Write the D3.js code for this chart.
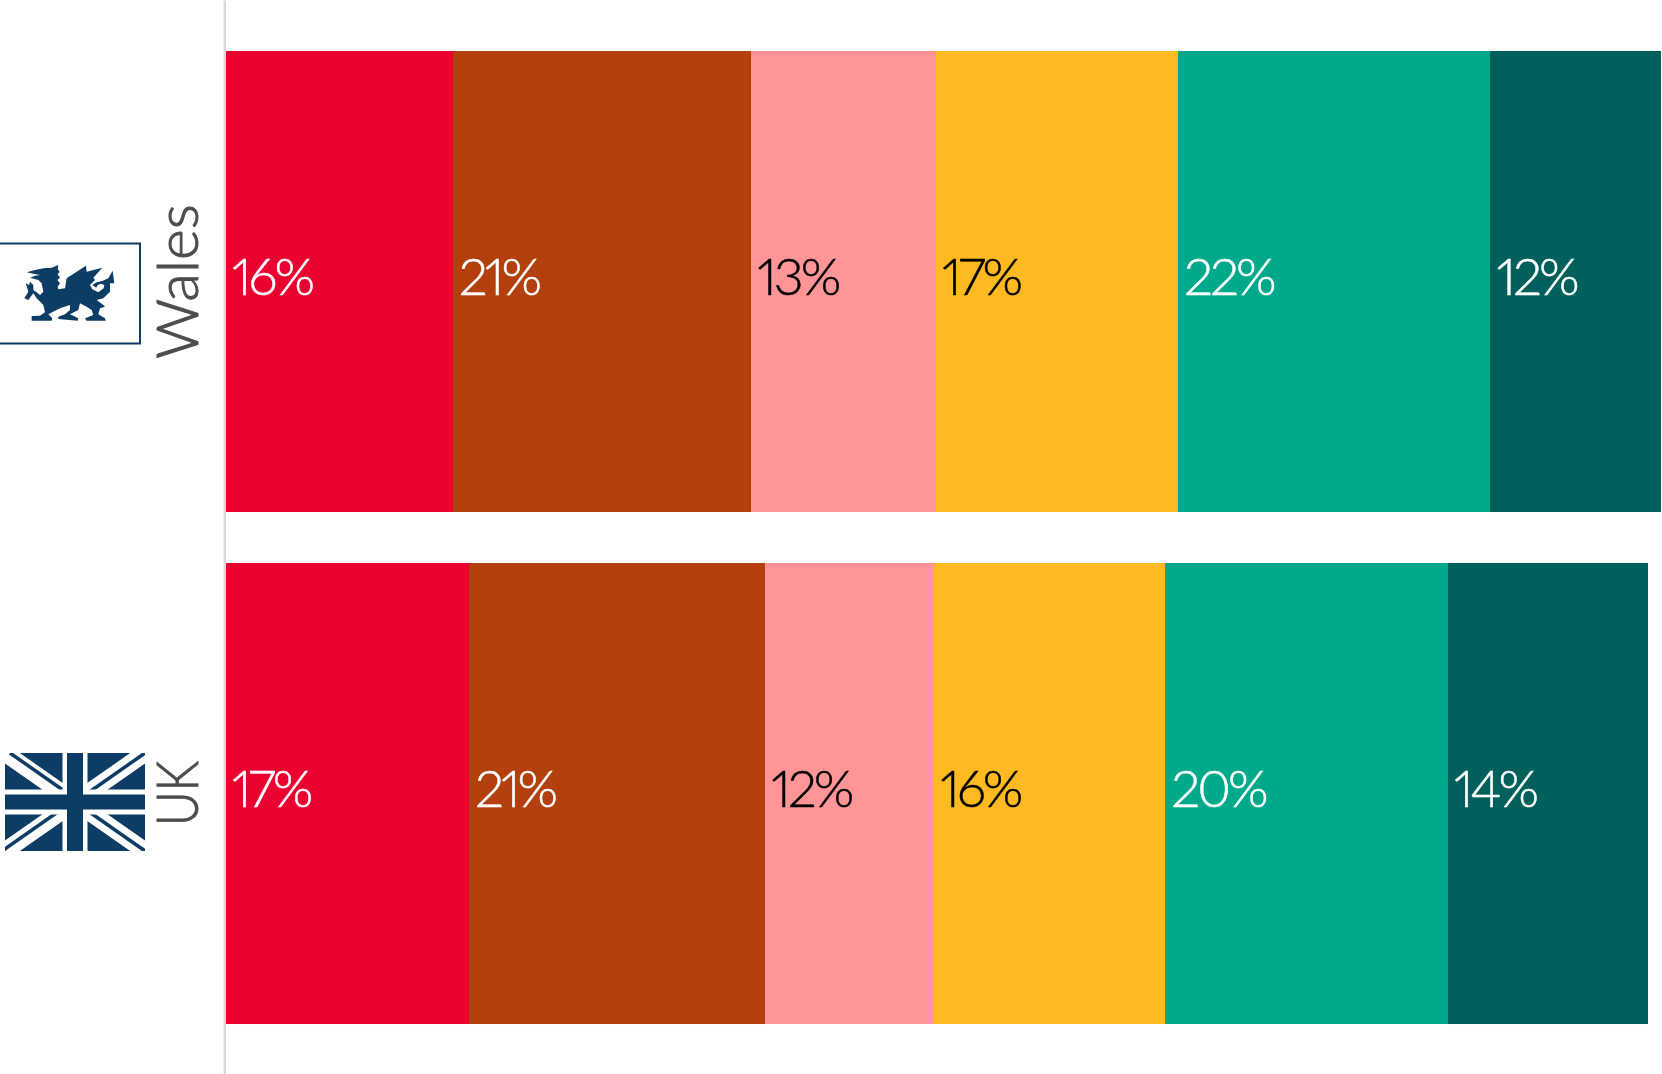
<!DOCTYPE html>
<html>
<head>
<meta charset="utf-8">
<script src="https://cdn.jsdelivr.net/npm/d3@7"></script>
<style>
  html, body { margin: 0; padding: 0; background: #fff; }
  svg { display: block; }
  text { font-family: Lato, sans-serif; font-weight: 300; font-feature-settings: 'pnum'; }
</style>
</head>
<body>
<div id="chart"></div>
<script>
// data
let regions = ['Wales', 'UK']
let groups = ['a', 'b', 'c', 'd', 'e', 'f']
let walesValues = [15.96, 21.0, 13.0, 17.03, 22.0, 12.02]
let ukValues = [17.1, 20.85, 11.9, 16.25, 19.9, 14.1]
let walesLabels = ['16%', '21%', '13%', '17%', '22%', '12%']
let ukLabels = ['17%', '21%', '12%', '16%', '20%', '14%']
let colors = ['#ea0130', '#b33f0d', '#ff9596', '#ffb921', '#00a98a', '#01605b']
let labelColors = ['#fff', '#fff', '#000', '#000', '#fff', '#fff']

let width = 1662
let height = 1074
let margin = { left: 226 }

let svg = d3
  .select('#chart')
  .append('svg')
  .attr('width', width)
  .attr('height', height)

let rows = regions.map((region, i) => {
  let row = { region: region }
  let values = i === 0 ? walesValues : ukValues
  groups.forEach((g, j) => {
    row[g] = values[j]
  })
  row.labels = i === 0 ? walesLabels : ukLabels
  return row
})

let xPositionScale = d3.scaleLinear().domain([0, 101.06]).range([margin.left, width])

let yPositionScale = d3
  .scaleBand()
  .domain(regions)
  .range([0, 1075])
  .padding(0.0996)

let stacked = d3.stack().keys(groups)(rows)

let layers = svg
  .selectAll('.layer')
  .data(stacked)
  .enter()
  .append('g')
  .attr('class', 'layer')

layers
  .selectAll('rect')
  .data(d => d)
  .enter()
  .append('rect')
  .attr('x', d => Math.round(xPositionScale(d[0])))
  .attr('width', d => Math.round(xPositionScale(d[1])) - Math.round(xPositionScale(d[0])))
  .attr('y', d => yPositionScale(d.data.region))
  .attr('height', yPositionScale.bandwidth())
  .attr('fill', function() {
    return colors[groups.indexOf(d3.select(this.parentNode).datum().key)]
  })

layers
  .selectAll('text')
  .data(d => d)
  .enter()
  .append('text')
  .text(function(d) {
    return d.data.labels[groups.indexOf(d3.select(this.parentNode).datum().key)]
  })
  .attr('x', d => xPositionScale(d[0]) + 6)
  .attr('y', d => yPositionScale(d.data.region) + yPositionScale.bandwidth() / 2 - 5)
  .attr('dy', '0.35em')
  .attr('font-size', 52)
  .attr('letter-spacing', -3)
  .attr('stroke-width', 0.5)
  .attr('fill', function() {
    return labelColors[groups.indexOf(d3.select(this.parentNode).datum().key)]
  })
  .attr('stroke', function() {
    return labelColors[groups.indexOf(d3.select(this.parentNode).datum().key)]
  })

// Category axis, labels turned on their side
let yAxis = d3.axisLeft(yPositionScale).tickSize(0).tickPadding(0)
let axis = svg
  .append('g')
  .attr('class', 'axis y-axis')
  .attr('transform', `translate(${margin.left - 1.75},0)`)
  .call(yAxis)

axis.select('.domain').attr('stroke', '#d9d9d9').attr('stroke-width', 2.5)

axis
  .selectAll('text')
  .attr('font-size', 57)
  .attr('font-family', 'Lato, sans-serif')
  .attr('fill', '#4d4d4d')
  .attr('stroke', '#4d4d4d')
  .attr('stroke-width', 1)
  .attr('text-anchor', 'middle')
  .attr('dy', 0)
  .attr('x', 0)
  .attr('y', 0)
  .attr('textLength', d => (d === 'Wales' ? 155 : 65))
  .attr('lengthAdjust', 'spacingAndGlyphs')
  .attr('transform', 'translate(-26,0) rotate(-90)')

// Wales flag
let navy = '#0d3c64'
let wales = svg.append('g').attr('class', 'flag wales')
wales
  .append('rect')
  .attr('x', -2)
  .attr('y', 243.5)
  .attr('width', 142)
  .attr('height', 100)
  .attr('fill', '#fff')
  .attr('stroke', navy)
  .attr('stroke-width', 2)

let dragonOutline = [
  [35, 52], [60, 45], [85, 40], [110, 38], [130, 30], [128, 42], [134, 50], [128, 58], [135, 68],
  [127, 75], [135, 85], [128, 95], [130, 103], [150, 100], [155, 70], [213, 32], [215, 50],
  [262, 38], [235, 68], [240, 75], [225, 90], [232, 103], [250, 112], [266, 100], [268, 90],
  [258, 86], [248, 90], [244, 98], [232, 90], [245, 82], [262, 78], [280, 70], [293, 47],
  [298, 85], [285, 85], [285, 110], [265, 130], [245, 135], [265, 150], [270, 155], [255, 160],
  [250, 178], [270, 190], [272, 197], [215, 197], [210, 190], [235, 180], [230, 165], [215, 155],
  [195, 145], [190, 165], [165, 178], [190, 190], [188, 197], [130, 192], [130, 185], [150, 178],
  [165, 165], [165, 150], [135, 160], [100, 178], [112, 190], [110, 197], [50, 197], [50, 183],
  [75, 182], [90, 172], [85, 150], [65, 130], [55, 115], [40, 135], [28, 130], [40, 110],
  [32, 85], [42, 90], [45, 80], [55, 90], [55, 105], [65, 112], [75, 120], [85, 110], [80, 85],
  [70, 75], [45, 68], [60, 62], [75, 60], [55, 56]
]
wales
  .append('path')
  .attr('transform', 'translate(15,255) scale(0.3333)')
  .attr('fill', navy)
  .attr('d', d3.line().curve(d3.curveLinearClosed)(dragonOutline))

// UK flag
let flag = svg
  .append('g')
  .attr('class', 'flag uk')
  .attr('transform', 'translate(5,753)')

svg
  .append('clipPath')
  .attr('id', 'flag-clip')
  .append('rect')
  .attr('width', 140)
  .attr('height', 98)

let crossGroup = flag.append('g').attr('clip-path', 'url(#flag-clip)')
crossGroup.append('rect').attr('width', 140).attr('height', 98).attr('fill', navy)
let crossLines = [
  [0, 0, 140, 98],
  [0, 98, 140, 0]
]
crossGroup
  .selectAll('.diag')
  .data(crossLines)
  .enter()
  .append('line')
  .attr('class', 'diag')
  .attr('x1', d => d[0])
  .attr('y1', d => d[1])
  .attr('x2', d => d[2])
  .attr('y2', d => d[3])
  .attr('stroke', '#fff')
  .attr('stroke-width', 17)

// thin stripes sit off the diagonal on the left side of the flag
let thinStripes = [
  [5, 0, 75, 49],
  [-3, 98, 67, 49],
  [140, 0, 70, 49],
  [140, 98, 70, 49]
]
crossGroup
  .selectAll('.diag-thin')
  .data(thinStripes)
  .enter()
  .append('line')
  .attr('class', 'diag-thin')
  .attr('x1', d => d[0])
  .attr('y1', d => d[1])
  .attr('x2', d => d[2])
  .attr('y2', d => d[3])
  .attr('stroke', navy)
  .attr('stroke-width', 3.5)
flag.append('rect').attr('x', 57.5).attr('width', 25).attr('height', 98).attr('fill', '#fff')
flag.append('rect').attr('y', 36.5).attr('width', 140).attr('height', 25).attr('fill', '#fff')
flag.append('rect').attr('x', 62).attr('width', 16).attr('height', 98).attr('fill', navy)
flag.append('rect').attr('y', 41.5).attr('width', 140).attr('height', 15).attr('fill', navy)
</script>
</body>
</html>
